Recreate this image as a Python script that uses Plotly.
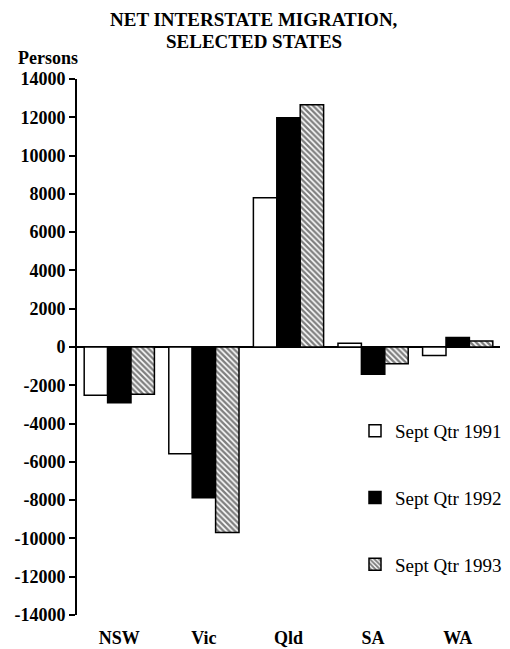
import plotly.graph_objects as go

states = ["NSW", "Vic", "Qld", "SA", "WA"]
series_names = ["Sept Qtr 1991", "Sept Qtr 1992", "Sept Qtr 1993"]
q1991 = [-2520, -5570, 7800, 190, -450]
q1992 = [-2910, -7880, 11980, -1430, 490]
q1993 = [-2470, -9690, 12660, -870, 310]
y_ticks = list(range(-14000, 14001, 2000))
title_lines = ["NET INTERSTATE MIGRATION,", "SELECTED STATES"]
y_title = "Persons"

SERIF = "Liberation Serif, Times New Roman, serif"

# plot area geometry (pixels)
L, R, T, B = 77, 10, 79, 34
W, H = 510, 649
PW, PH = W - L - R, H - T - B


def px_x(x):
    return (x - L) / PW


def px_y(y):
    return (H - B - y) / PH


fig = go.Figure()
styles = [
    dict(color="white", pattern=None),
    dict(color="black", pattern=None),
    dict(color="white", pattern=dict(shape="\\", fgcolor="black", bgcolor="white", size=4, solidity=0.6)),
]
for i, (name, vals) in enumerate(zip(series_names, [q1991, q1992, q1993])):
    marker = dict(color=styles[i]["color"], line=dict(color="black", width=1.5))
    if styles[i]["pattern"]:
        marker["pattern"] = styles[i]["pattern"]
    fig.add_trace(go.Bar(x=states, y=vals, name=name, marker=marker,
                         legendgroup=f"g{i}"))

fig.update_layout(
    width=W, height=H,
    margin=dict(l=L, r=R, t=T, b=B, autoexpand=False),
    paper_bgcolor="white", plot_bgcolor="white",
    barmode="group", bargap=0.17, bargroupgap=0,
    showlegend=True,
    legend=dict(x=px_x(355), xanchor="left", y=px_y(412), yanchor="top",
                font=dict(family=SERIF, size=19, color="black"),
                tracegroupgap=39, bgcolor="rgba(0,0,0,0)", traceorder="grouped",
                itemclick=False),
    font=dict(family=SERIF, color="black"),
)
fig.update_yaxes(range=[-14000, 14000], tickvals=y_ticks,
                 ticktext=[str(v) for v in y_ticks],
                 showline=True, linecolor="black", linewidth=2,
                 ticks="outside", ticklen=6, tickwidth=1.5, tickcolor="black",
                 showgrid=False, zeroline=True, zerolinecolor="black", zerolinewidth=2,
                 tickfont=dict(family=SERIF, size=18, color="black", weight="bold"))
fig.update_xaxes(showline=False, ticks="", showgrid=False, zeroline=False,
                 tickfont=dict(family=SERIF, size=18, color="black", weight="bold"),
                 ticklabelstandoff=10)

# title (two lines, tight leading) and y-axis caption
for line, yc in zip(title_lines, [19, 41]):
    fig.add_annotation(text=line, xref="paper", yref="paper", x=px_x(254), y=px_y(yc),
                       xanchor="center", yanchor="middle", showarrow=False,
                       font=dict(family=SERIF, size=19, color="black", weight="bold"))
fig.add_annotation(text=y_title, xref="paper", yref="paper", x=px_x(16), y=px_y(58),
                   xanchor="left", yanchor="middle", showarrow=False,
                   font=dict(family=SERIF, size=18, color="black", weight="bold"))

fig.write_html("out.html", config={"displayModeBar": False},
               post_script="document.body.style.margin='0px';")
